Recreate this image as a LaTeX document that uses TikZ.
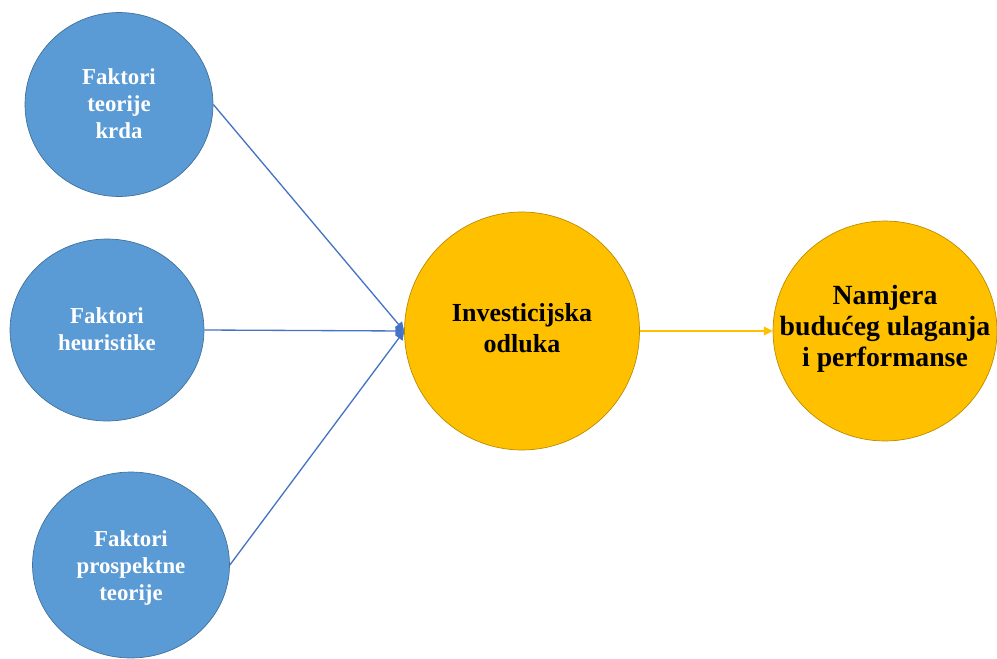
\documentclass[tikz,border=0pt]{standalone}
\usepackage{fontspec}
\setmainfont{Liberation Serif}
\usetikzlibrary{arrows.meta,shapes.geometric}
\definecolor{factorblue}{HTML}{5B9BD5}
\definecolor{factorline}{HTML}{41719C}
\definecolor{decisionyellow}{HTML}{FFC000}
\definecolor{decisionline}{HTML}{BC8C00}
\definecolor{linkblue}{HTML}{4472C4}
% text of zero size, so the ellipse keeps its minimum size
\newcommand{\bubbletext}[2][-0.6em]{\raisebox{#1}{\smash{\makebox[0pt]{\begin{tabular}{@{}c@{}}#2\end{tabular}}}}}
\tikzset{
    factor/.style={ellipse,fill=factorblue,draw=factorline,thin,text=white,inner sep=0pt,
        font=\fontsize{13}{15.3}\selectfont\bfseries},
    outcome/.style={ellipse,fill=decisionyellow,draw=decisionline,thin,text=black,inner sep=0pt},
    arr/.style={-{Triangle[length=5pt,width=5pt]},line width=0.75pt},
    blue arr/.style={arr,linkblue},
    yellow arr/.style={arr,decisionyellow},
}

\begin{document}
\begin{tikzpicture}[x=0.02cm,y=-0.02cm]
    \useasboundingbox (0,0) rectangle (997,659);
    \node[factor,minimum width=3.76cm,minimum height=3.68cm] (herd) at (119,104.5)
        {\bubbletext{Faktori\\teorije\\krda}};
    \node[factor,minimum width=3.88cm,minimum height=3.64cm] (heur) at (107,330)
        {\bubbletext{Faktori\\heuristike}};
    \node[factor,minimum width=3.94cm,minimum height=3.72cm] (prosp) at (131,565)
        {\bubbletext[-0.75em]{Faktori\\prospektne\\teorije}};
    \node[outcome,minimum width=4.7cm,minimum height=4.76cm,
        font=\fontsize{14.8}{18}\selectfont\bfseries] (decision) at (522,331)
        {\bubbletext[-0.45em]{Investicijska\\odluka}};
    \node[outcome,minimum width=4.48cm,minimum height=4.4cm,
        font=\fontsize{15.8}{17.6}\selectfont\bfseries] (intent) at (885,331)
        {\bubbletext[-0.35em]{Namjera\\budućeg ulaganja\\i performanse}};

    \draw[blue arr] (herd.east) -- (decision.west);
    \draw[blue arr] (heur.east) -- (decision.west);
    \draw[blue arr] (prosp.east) -- (decision.west);
    \draw[yellow arr] (decision.east) -- (intent.west);
\end{tikzpicture}
\end{document}
